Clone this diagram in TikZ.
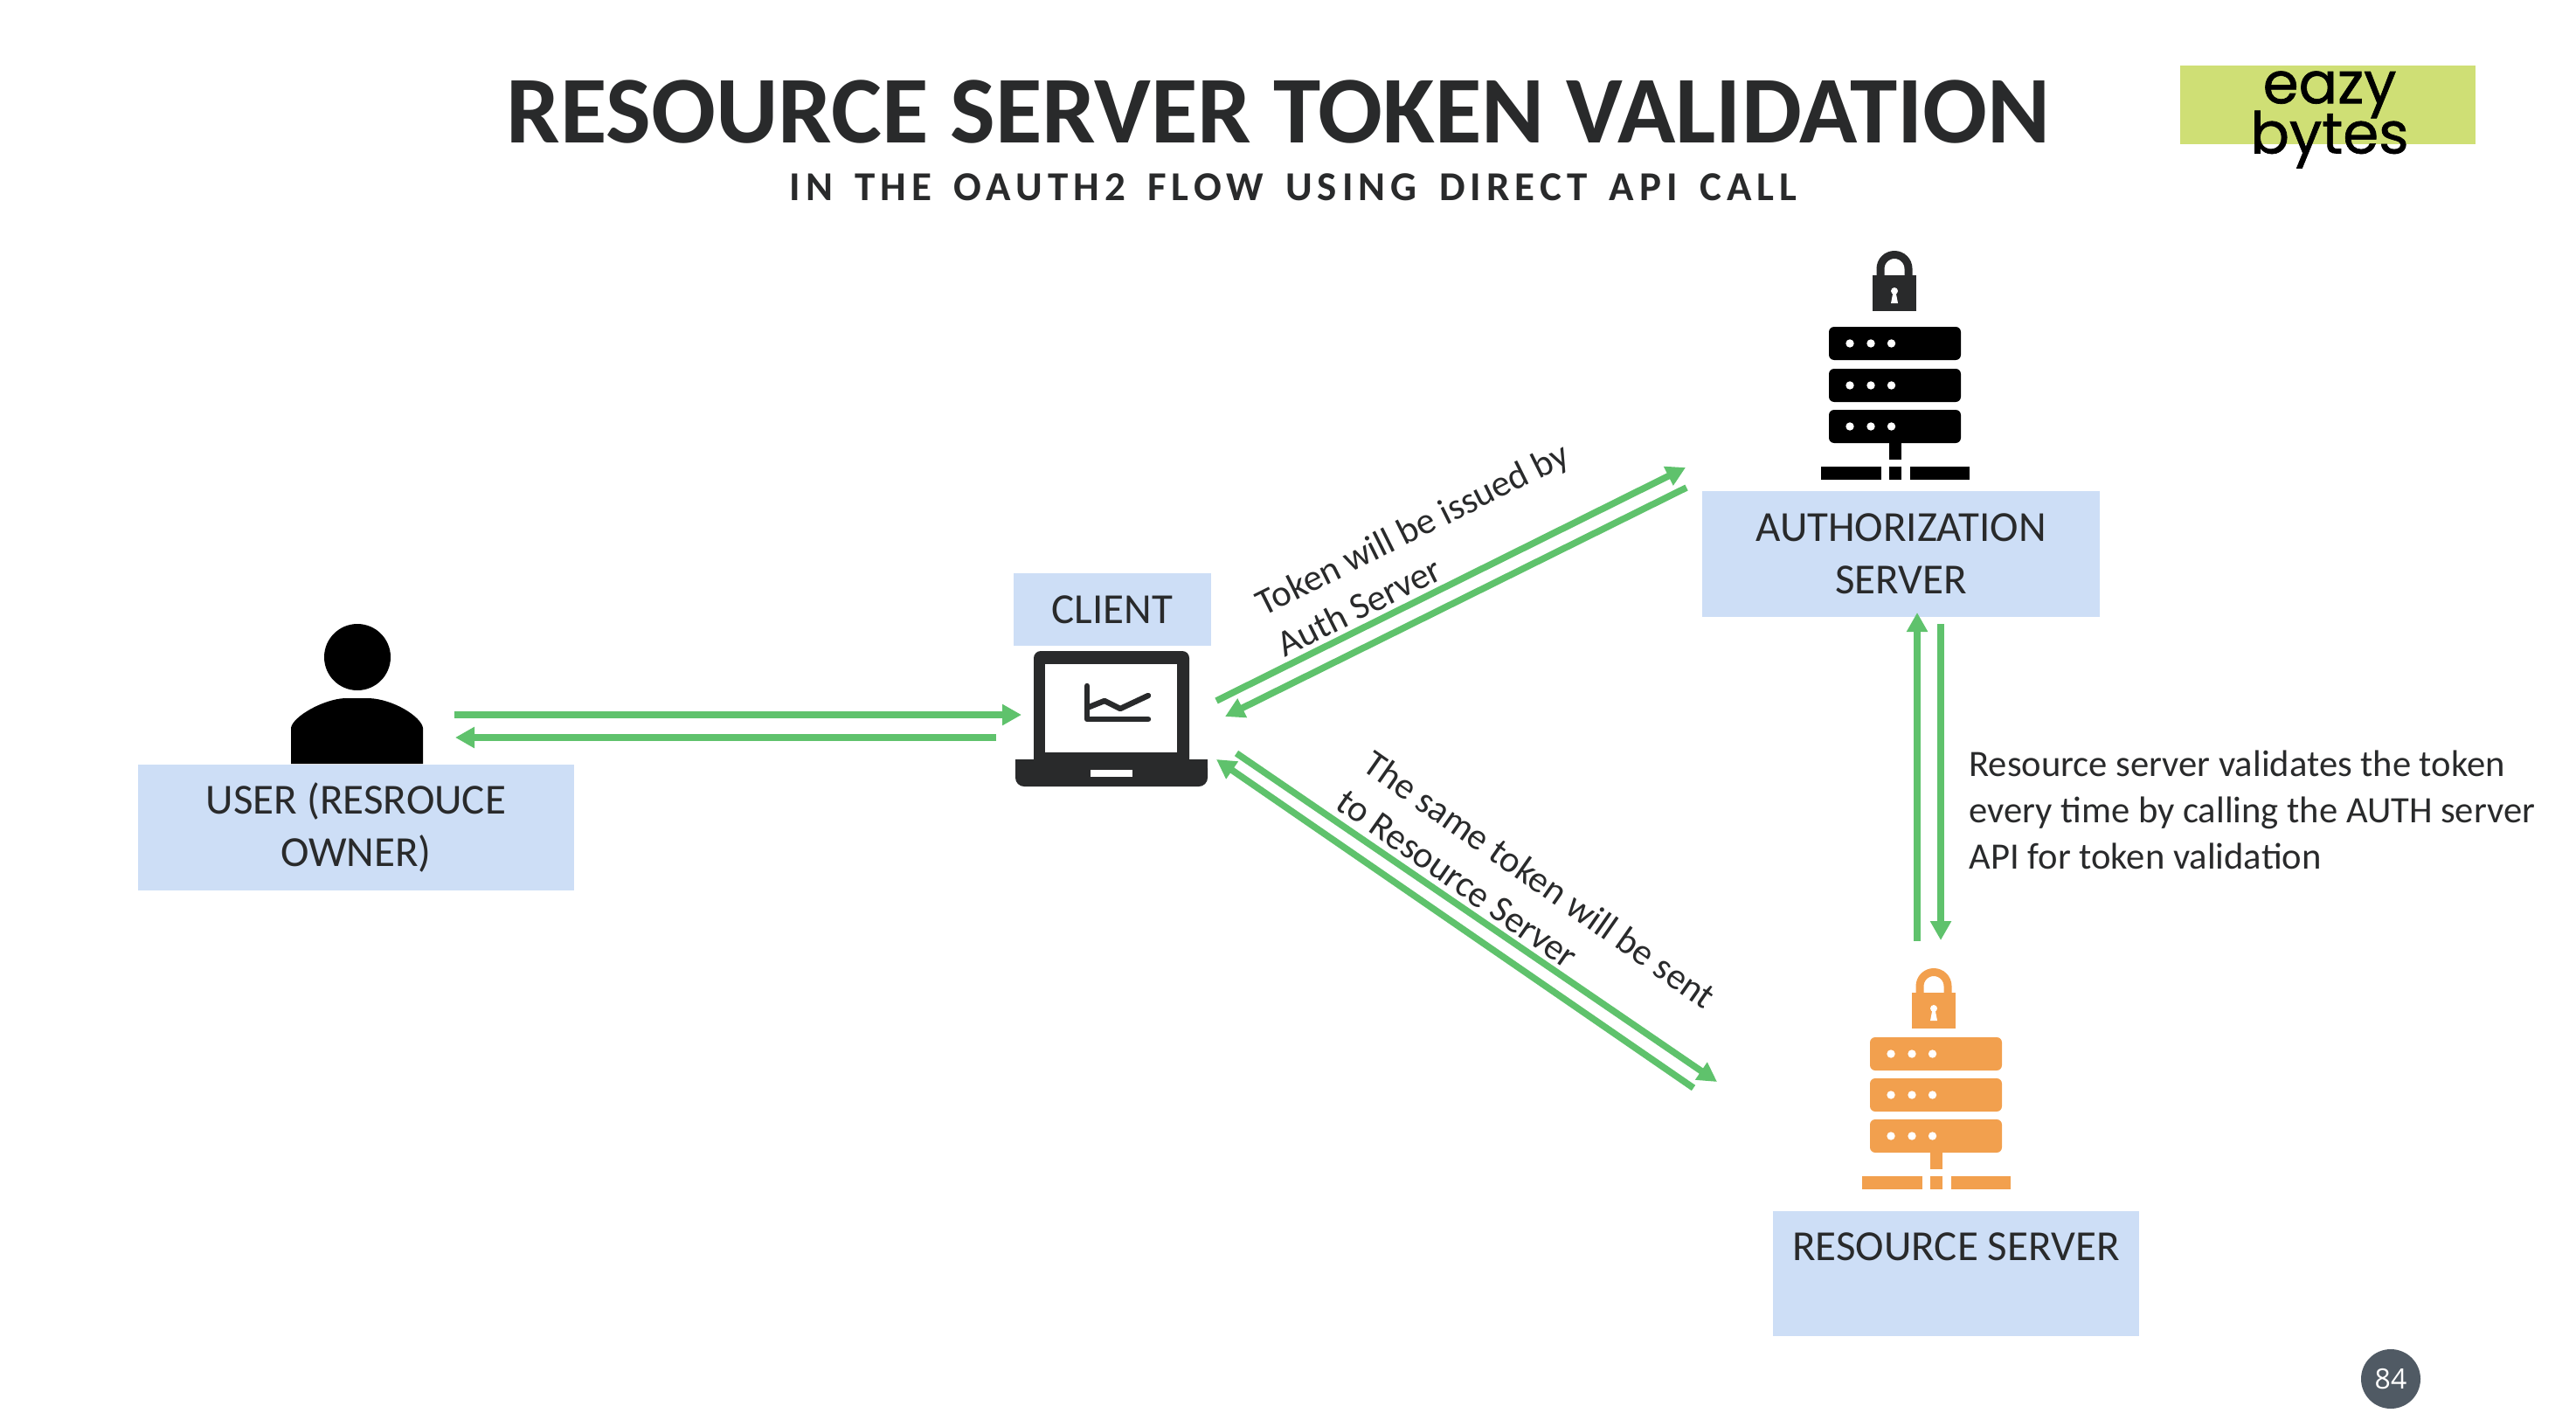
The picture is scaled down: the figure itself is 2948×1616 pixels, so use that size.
\documentclass[tikz,border=0pt]{standalone}
\usepackage{fontspec}
\usetikzlibrary{arrows.meta}
\setmainfont{Carlito}
\newfontfamily\subtitlefont{Carlito}[LetterSpace=13,WordSpace=1.5]
\newfontfamily\logofont{Poppins}[FakeBold=1]
\newfontfamily\pagefont{Open Sans}
\definecolor{boxblue}{HTML}{CDDEF6}
\definecolor{flowgreen}{HTML}{5FC26C}
\definecolor{serverorange}{HTML}{F2A04E}
\definecolor{logogreen}{HTML}{CFDF75}
\definecolor{inkgrey}{HTML}{292A2B}
\definecolor{pagegrey}{HTML}{505A64}
\tikzset{
    flow/.style={draw=flowgreen, line width=3.8pt, -{Triangle[length=11pt,width=11.5pt]}},
    namebox/.style={fill=boxblue, text=inkgrey, inner sep=0pt, align=center, font=\fontsize{24.5}{30}\selectfont},
    flowtext/.style={text=inkgrey, inner sep=0pt, align=left, font=\fontsize{21.3}{26.5}\selectfont},
    pics/lockicon/.style={code={
        \draw[#1, line width=4.5pt] (-16,28) -- (-16,20.5) arc[start angle=180, end angle=360, radius=16] -- (16,28);
        \fill[#1] (-25,28) rectangle (25,69);
        \fill[white] (0,46) circle[radius=4];
        \fill[white] (-1.5,47) -- (1.5,47) -- (4,60) -- (-4,60) -- cycle;
    }},
    pics/rackicon/.style={code={
        \fill[#1, rounded corners=3pt] (-75.5,0) rectangle (75.5,38);
        \fill[white] (-51.5,19) circle[radius=4.7];
        \fill[white] (-27.5,19) circle[radius=4.7];
        \fill[white] (-4,19) circle[radius=4.7];
    }},
    pics/baseicon/.style={code={
        \fill[#1] (-7,0) rectangle (7,19);
        \fill[#1] (-84.5,27) rectangle (-15.5,42);
        \fill[#1] (-7,27) rectangle (7,42);
        \fill[#1] (17.5,27) rectangle (85.5,42);
    }}
}
\begin{document}
\begin{tikzpicture}[x=0.5pt,y=-0.5pt]
    \useasboundingbox (0,0) rectangle (2948,1616);

    % titles
    \node[text=inkgrey, inner sep=0pt, font=\fontsize{54.7}{60}\selectfont\bfseries] (title) at (1463,128) {RESOURCE SERVER TOKEN VALIDATION};
    \node[text=inkgrey, inner sep=0pt, font=\subtitlefont\fontsize{23.5}{26}\selectfont\bfseries] (subtitle) at (1480,214) {IN THE OAUTH2 FLOW USING DIRECT API CALL};

    % logo
    \node[fill=logogreen, inner sep=0pt, minimum width=169pt, minimum height=45pt] (logo) at (2664,120) {};
    \node[inner sep=0pt, align=center, font=\logofont\fontsize{33}{27.5}\selectfont] (logotext) at (2666,137) {eazy\\[-5.3pt]bytes};

    % boxes
    \node[namebox, minimum width=249.5pt, minimum height=72pt] (userBox) at (407.5,947) {USER (RESROUCE\\OWNER)};
    \node[namebox, minimum width=113pt, minimum height=41.5pt] (clientBox) at (1273,697.5) {CLIENT};
    \node[namebox, minimum width=227.5pt, minimum height=72pt] (authBox) at (2175.5,634) {AUTHORIZATION\\SERVER};
    \node[namebox, minimum width=209.5pt, minimum height=71.5pt] (resourceBox) at (2238.5,1457) {RESOURCE SERVER\\~};

    % user icon
    \fill[black] (409,752) circle[radius=38];
    \fill[black] (333,874) -- (333,833) .. controls (335,820) and (370,800) .. (395,799) -- (422,799) .. controls (450,800) and (482,820) .. (484,833) -- (484,874) -- cycle;

    % laptop icon
    \fill[inkgrey, rounded corners=4pt] (1183,880) -- (1183,745) -- (1361,745) -- (1361,880) -- cycle;
    \fill[white] (1196,760) rectangle (1347,861);
    \fill[inkgrey, rounded corners=5pt] (1162,869) -- (1162,900) -- (1382,900) -- (1382,869) -- cycle;
    \fill[inkgrey] (1162,869) rectangle (1382,880);
    \fill[white] (1248,881) rectangle (1296,889);
    \draw[inkgrey, line width=3.2pt, line cap=round, line join=round] (1244,785) -- (1244,823) -- (1314,823);
    \draw[inkgrey, line width=3.2pt, line cap=round, line join=round] (1244,810) -- (1264,802) -- (1282,811) -- (1314,796);

    % servers
    \pic at (2168,287) {lockicon=inkgrey};
    \pic at (2168.5,374) {rackicon=black};
    \pic at (2168.5,422) {rackicon=black};
    \pic at (2168.5,469) {rackicon=black};
    \pic at (2168.5,507) {baseicon=black};

    \pic at (2213,1108) {lockicon=serverorange};
    \pic at (2215.5,1187) {rackicon=serverorange};
    \pic at (2215.5,1234) {rackicon=serverorange};
    \pic at (2215.5,1281) {rackicon=serverorange};
    \pic at (2215.5,1319) {baseicon=serverorange};

    % free ends of the arrows
    \coordinate (userOut) at (520,818);
    \coordinate (clientIn) at (1169,818);
    \coordinate (clientBack) at (1140,844);
    \coordinate (userIn) at (521,844);
    \coordinate (clientUp) at (1392,802);
    \coordinate (authIn) at (1929,535);
    \coordinate (authBack) at (1930,558);
    \coordinate (clientDown) at (1402,820);
    \coordinate (clientOut) at (1415,862);
    \coordinate (resourceIn) at (1965,1238);
    \coordinate (resourceBack) at (1938,1245);
    \coordinate (clientRet) at (1392,869);
    \coordinate (authUp) at (2194,1077);
    \coordinate (authFoot) at (2194,701);
    \coordinate (authDown) at (2221,714);
    \coordinate (resourceTop) at (2221,1076);

    % arrows
    \draw[flow] (userOut) -- (clientIn);
    \draw[flow] (clientBack) -- (userIn);
    \draw[flow] (clientUp) -- (authIn);
    \draw[flow] (authBack) -- (clientDown);
    \draw[flow] (clientOut) -- (resourceIn);
    \draw[flow] (resourceBack) -- (clientRet);
    \draw[flow] (authUp) -- (authFoot);
    \draw[flow] (authDown) -- (resourceTop);

    % labels of the arrows
    \node[flowtext, rotate=26.5] (issuedText) at (1628,628) {Token will be issued by\\Auth Server};
    \node[flowtext, rotate=-35] (sentText) at (1747,1028) {The same token will be sent\\to Resource Server};
    \node[flowtext, anchor=west] (validText) at (2253,927) {Resource server validates the token\\every time by calling the AUTH server\\API for token validation};

    % page number
    \node[circle, fill=pagegrey, text=white, inner sep=0pt, minimum size=34pt, font=\pagefont\fontsize{16}{18}\selectfont] (pageNum) at (2736,1578) {84};
\end{tikzpicture}
\end{document}
